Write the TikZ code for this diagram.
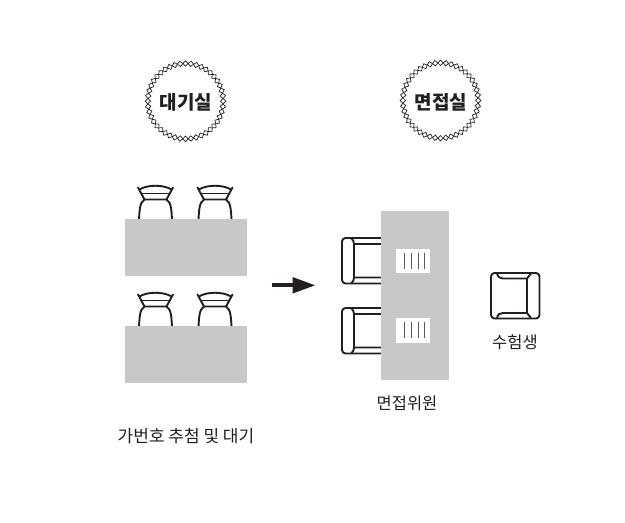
\documentclass[tikz,border=0pt]{standalone}
\usepackage{fontspec}
\setmainfont{Noto Sans CJK KR}
\newfontfamily\krbold{Noto Sans CJK KR Black}
\definecolor{tablegray}{HTML}{C8C8C8}
\definecolor{ink}{HTML}{231F20}
\usetikzlibrary{calc}
\tikzset{
  x=1pt,y=-1pt,
  tablebox/.style={fill=tablegray,draw=none},
  furn/.style={draw=ink,line width=1.9pt,line cap=round,line join=round},
  paperbox/.style={fill=white,draw=none},
  tickline/.style={draw=black!65,line width=0.8pt},
  title/.style={font=\krbold\fontsize{19}{21}\selectfont,text=ink,inner sep=0pt},
  caption/.style={font=\fontsize{16.5}{19}\selectfont,text=ink,inner sep=0pt},
  dia/.style={draw=ink,line width=0.7pt,fill=white},
  frontchair/.pic={
    \draw[furn] (-16.5,31.5) .. controls (-16,24) and (-16,14) .. (-11,11.5);
    \draw[furn] (16.5,31.5) .. controls (16,24) and (16,14) .. (11,11.5);
    \draw[furn] (-16,1.5) .. controls (-8,-3.5) and (8,-3.5) .. (16,1.5);
    \draw[furn] (-17.5,-0.5) -- (-11,11.5) -- (11,11.5) -- (17.5,-0.5);
    \draw[furn,line width=1.6pt] (-14.5,5.5) -- (14.5,5.5);
  },
  sidechair/.pic={
    \draw[furn,rounded corners=3.5pt] (39,0) -- (0,0) -- (0,45.5) -- (39,45.5);
    \draw[furn] (39,6) -- (12,6) .. controls (12,4) and (11,1.5) .. (9.5,0.5);
    \draw[furn] (39,39.5) -- (12,39.5) .. controls (12,42) and (11,44) .. (9.5,45);
    \draw[furn] (12,6) -- (12,39.5);
  }
}
\newcommand{\dring}[2]{%
  \foreach \a in {0,8.1818,...,359} {
    \begin{scope}[shift={(#1,#2)},rotate=\a]
      \draw[dia] (37.7,-2.7) -- (40.4,0) -- (37.7,2.7) -- (35,0) -- cycle;
    \end{scope}
  }
}
\begin{document}
\begin{tikzpicture}
\useasboundingbox (0,0) rectangle (625,523);
\fill[white] (0,0) rectangle (625,523);

% badges
\dring{185.5}{101.2}
\dring{440.5}{100.5}
\node[title] (waitTitle) at (186,102) {대기실};
\node[title] (interviewTitle) at (441,102) {면접실};

% waiting room chairs and tables
\pic at (155.5,188) {frontchair};
\pic at (215,188) {frontchair};
\pic at (155.5,295) {frontchair};
\pic at (215,295) {frontchair};
\fill[tablegray] (125,219) rectangle (247,276);
\fill[tablegray] (125,326) rectangle (247,383);

% arrow
\coordinate (arrowStart) at (272,285.3);
\coordinate (arrowEnd) at (315,285.3);
\draw[ink,line width=3.8pt] (arrowStart) -- (296,285.3);
\fill[ink] (arrowEnd) -- (292.5,277) -- (292.5,293.6) -- cycle;

% interview room
\pic at (342,238) {sidechair};
\pic at (342,308) {sidechair};
\fill[tablegray] (381,211) rectangle (449,380);
\fill[paperbox] (396,249) rectangle (430,273);
\fill[paperbox] (396,318) rectangle (430,343);
\foreach \y in {0,69.5} \foreach \x in {404,411,418,424.5} {
  \draw[tickline] (\x,252.5+\y) -- (\x,268.5+\y);
}

% candidate chair
\draw[furn,rounded corners=3.5pt] (491,273) rectangle (539.5,318.5);
\draw[furn] (527,278.5) -- (527,313);
\draw[furn] (497,273.5) .. controls (498,277) and (500,278.5) .. (503,278.5) -- (527,278.5) -- (531,273.5);
\draw[furn] (497,318) .. controls (498,314) and (500,313) .. (503,313) -- (527,313) -- (531,318);

% captions
\node[caption,font=\fontsize{17}{19}\selectfont] (c1) at (186,436) {가번호 추첨 및 대기};
\node[caption] (c2) at (407,403.5) {면접위원};
\node[caption] (c3) at (515,342) {수험생};
\end{tikzpicture}
\end{document}
